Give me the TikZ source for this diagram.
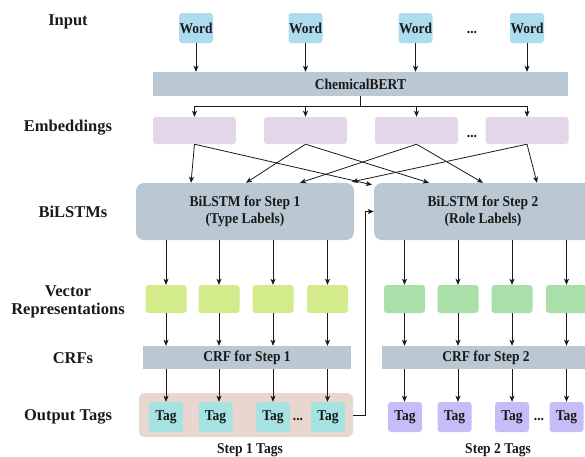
\documentclass[tikz,border=0pt]{standalone}
\usepackage{fontspec}
\setmainfont{Liberation Serif}
\newfontfamily\boxfont[FakeStretch=0.9]{Liberation Serif}
\usetikzlibrary{arrows.meta,calc}
\definecolor{wordc}{HTML}{AEDCEF}
\definecolor{modc}{HTML}{B9C8D3}
\definecolor{embc}{HTML}{E3D6E9}
\definecolor{vecac}{HTML}{D4EB8C}
\definecolor{vecbc}{HTML}{A9E0A9}
\definecolor{tagac}{HTML}{A6E2E2}
\definecolor{tagbc}{HTML}{C5BDF8}
\definecolor{tagbg}{HTML}{E9D7CF}
\definecolor{ink}{HTML}{1A1A1A}
\begin{document}
\begin{tikzpicture}[x=1pt,y=-1pt,
  lbl/.style={text=ink,font=\bfseries\fontsize{16.5}{18.5}\selectfont,align=center,inner sep=0},
  btxt/.style={text=ink,font=\boxfont\bfseries\fontsize{15}{17}\selectfont,align=center,inner sep=0},
  word/.style={btxt,fill=wordc,rounded corners=3,minimum width=34,minimum height=30},
  bar/.style={btxt,fill=modc,minimum height=24},
  emb/.style={fill=embc,rounded corners=3,minimum width=83,minimum height=27,inner sep=0},
  lstm/.style={btxt,fill=modc,rounded corners=8,minimum width=218,minimum height=57},
  veca/.style={fill=vecac,rounded corners=3,minimum width=41,minimum height=28,inner sep=0},
  vecb/.style={fill=vecbc,rounded corners=3,minimum width=41,minimum height=28,inner sep=0},
  taga/.style={btxt,fill=tagac,rounded corners=3,minimum width=34,minimum height=30},
  tagb/.style={btxt,fill=tagbc,rounded corners=3,minimum width=34,minimum height=30},
  dots/.style={btxt},
  arr/.style={draw=ink,line width=0.8pt,-{Stealth[length=6pt,width=5pt,inset=1.5pt]}},
  ln/.style={draw=ink,line width=0.8pt}
]
\useasboundingbox (0,0) rectangle (585,456);
\clip (0,0) rectangle (585,456);

% left labels
\node[lbl] (lin) at (68,22) {Input};
\node[lbl] (lemb) at (68,128) {Embeddings};
\node[lbl] (llstm) at (73,212) {BiLSTMs};
\node[lbl] (lvec) at (68,302) {Vector\\Representations};
\node[lbl] (lcrf) at (73,358) {CRFs};
\node[lbl] (lout) at (68,417) {Output Tags};

% input words
\node[word] (w1) at (196,28) {Word};
\node[word] (w2) at (305.5,28) {Word};
\node[word] (w3) at (415.5,28) {Word};
\node[word] (w4) at (527,28) {Word};
\node[dots] (wd) at (472,32) {...};

% ChemicalBERT
\node[bar,minimum width=415] (bert) at (360.5,84) {ChemicalBERT};

% embeddings
\node[emb] (e1) at (194.5,130.5) {};
\node[emb] (e2) at (305.5,130.5) {};
\node[emb] (e3) at (416.5,130.5) {};
\node[emb] (e4) at (527,130.5) {};
\node[dots] (ed) at (472,136) {...};

% BiLSTMs
\node[lstm] (b1) at (245,211.5) {BiLSTM for Step 1\\(Type Labels)};
\node[lstm] (b2) at (483,211.5) {BiLSTM for Step 2\\(Role Labels)};

% vector representations
\node[veca] (v1) at (166,299) {};
\node[veca] (v2) at (219,299) {};
\node[veca] (v3) at (273,299) {};
\node[veca] (v4) at (327.5,299) {};
\node[vecb] (u1) at (404.5,299) {};
\node[vecb] (u2) at (458,299) {};
\node[vecb] (u3) at (512,299) {};
\node[vecb] (u4) at (566.5,299) {};

% CRFs
\node[bar,minimum width=208,minimum height=23] (c1) at (247,357.5) {CRF for Step 1};
\node[bar,minimum width=208,minimum height=23] (c2) at (486,357.5) {CRF for Step 2};

% output tags
\node[fill=tagbg,rounded corners=6,minimum width=214,minimum height=44,inner sep=0] (tbg) at (246,415) {};
\node[taga] (t1) at (166,417) {Tag};
\node[taga] (t2) at (215.5,417) {Tag};
\node[taga] (t3) at (273,417) {Tag};
\node[taga] (t4) at (328,417) {Tag};
\node[dots] (td1) at (298,419) {...};
\node[tagb] (s1) at (405,417) {Tag};
\node[tagb] (s2) at (454.5,417) {Tag};
\node[tagb] (s3) at (512,417) {Tag};
\node[tagb] (s4) at (566.5,417) {Tag};
\node[dots] (td2) at (539,419) {...};
\node[btxt] (st1) at (250,450) {Step 1 Tags};
\node[btxt] (st2) at (498,450) {Step 2 Tags};

% words -> BERT
\foreach \w in {w1,w2,w3,w4}
  \draw[arr] (\w.south) -- (\w.south |- bert.north);

% BERT -> embeddings
\coordinate (bj) at ($(bert.south)+(0,10)$);
\draw[ln] (bert.south) -- (bj);
\draw[ln] (bj -| e1) -- (bj -| e4);
\foreach \e in {e1,e2,e3,e4}
  \draw[arr] (bj -| \e) -- (\e.north);

% embeddings -> BiLSTMs
\draw[arr] (e1.south) -- ([xshift=-54pt]b1.north);
\draw[arr] (e2.south) -- ([xshift=1pt]b1.north);
\draw[arr] (e3.south) -- ([xshift=55pt]b1.north);
\draw[arr] (e4.south) -- ([xshift=107pt,yshift=1pt]b1.north);
\draw[arr] (e1.south) -- ([xshift=-111pt,yshift=-2pt]b2.north);
\draw[arr] (e2.south) -- ([xshift=-54pt]b2.north);
\draw[arr] (e3.south) -- (b2.north);
\draw[arr] (e4.south) -- ([xshift=54pt]b2.north);

% BiLSTMs -> vectors
\foreach \v in {v1,v2,v3,v4}
  \draw[arr] (\v.north |- b1.south) -- (\v.north);
\foreach \v in {u1,u2,u3,u4}
  \draw[arr] (\v.north |- b2.south) -- (\v.north);

% vectors -> CRFs
\foreach \v in {v1,v2,v3,v4}
  \draw[arr] (\v.south) -- (\v.south |- c1.north);
\foreach \v in {u1,u2,u3,u4}
  \draw[arr] (\v.south) -- (\v.south |- c2.north);

% CRFs -> tags
\draw[arr] (v1 |- c1.south) -- (v1 |- t1.north);
\draw[arr] (v2 |- c1.south) -- (v2 |- t2.north);
\draw[arr] (v3 |- c1.south) -- (v3 |- t3.north);
\draw[arr] (v4 |- c1.south) -- (v4 |- t4.north);
\draw[arr] (u1 |- c2.south) -- (u1 |- s1.north);
\draw[arr] (u2 |- c2.south) -- (u2 |- s2.north);
\draw[arr] (u3 |- c2.south) -- (u3 |- s3.north);
\draw[arr] (u4 |- c2.south) -- (u4 |- s4.north);

% feedback step 1 tags -> BiLSTM step 2
\draw[arr] (tbg.east) -- ++(12,0) |- (b2.west);
\end{tikzpicture}
\end{document}
